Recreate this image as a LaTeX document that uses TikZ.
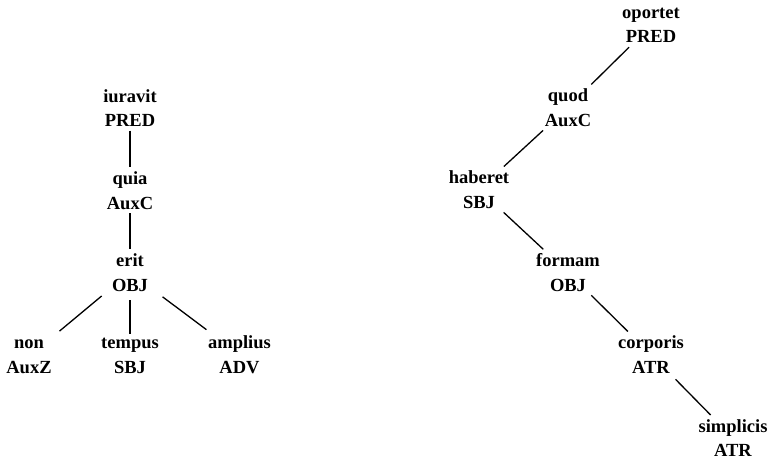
\documentclass[tikz,border=0pt]{standalone}
\usepackage{fontspec}
\setmainfont{Liberation Serif}
\begin{document}
\begin{tikzpicture}[x=1pt,y=-1pt,
  tnode/.style={align=center,anchor=base,inner sep=4pt,
    font=\fontsize{18.5}{24.5}\selectfont\bfseries},
  edge/.style={line width=1.3pt}]
\useasboundingbox (0,0) rectangle (771,460);
% left tree
\node[tnode] (iuravit) at (130,126.5) {iuravit\\PRED};
\node[tnode] (quia) at (130,209) {quia\\AuxC};
\node[tnode] (erit) at (130,291) {erit\\OBJ};
\node[tnode] (non) at (29,373) {non\\AuxZ};
\node[tnode] (tempus) at (130,373) {tempus\\SBJ};
\node[tnode] (amplius) at (239.5,373) {amplius\\ADV};
\draw[edge] (iuravit) -- (quia);
\draw[edge] (quia) -- (erit);
\draw[edge,shorten <=8pt,shorten >=7pt] (erit) -- (non);
\draw[edge,shorten <=5pt] (erit) -- (tempus);
\draw[edge,shorten <=13pt,shorten >=3pt] (erit) -- (amplius);
% right tree
\node[tnode] (oportet) at (651,43) {oportet\\PRED};
\node[tnode] (quod) at (568,126) {quod\\AuxC};
\node[tnode] (haberet) at (479,208) {haberet\\SBJ};
\node[tnode] (formam) at (568,291) {formam\\OBJ};
\node[tnode] (corporis) at (651,373) {corporis\\ATR};
\node[tnode] (simplicis) at (733,456.5) {simplicis\\ATR};
\draw[edge] (oportet) -- (quod);
\draw[edge] (quod) -- (haberet);
\draw[edge] (haberet) -- (formam);
\draw[edge] (formam) -- (corporis);
\draw[edge,shorten <=3pt] (corporis) -- (simplicis);
\end{tikzpicture}
\end{document}
